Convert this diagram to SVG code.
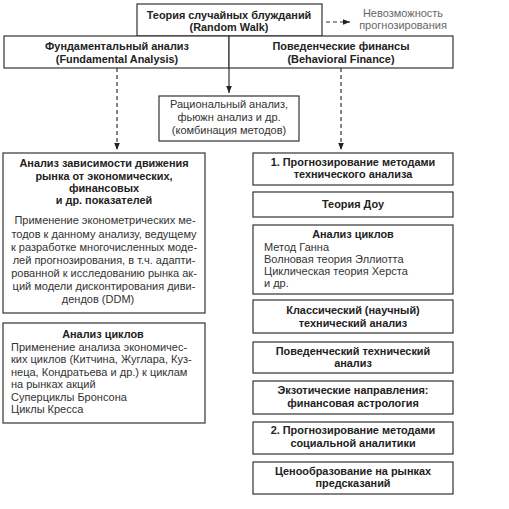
<svg xmlns="http://www.w3.org/2000/svg" width="509" height="509" viewBox="0 0 509 509">
<style>
.box{fill:#fff;stroke:#333;stroke-width:1.2}
.b{font-family:"Liberation Sans",Arial,sans-serif;font-weight:bold;font-size:10.9px;fill:#222;text-anchor:middle}
.n{font-family:"Liberation Sans",Arial,sans-serif;font-size:11px;fill:#333}
.c{text-anchor:middle}
.g{font-family:"Liberation Sans",Arial,sans-serif;font-size:11px;fill:#666;text-anchor:middle}
.ln{stroke:#333;stroke-width:1.2;fill:none}
.d{stroke-dasharray:4 3}
</style>
<defs>
<marker id="ah" viewBox="0 0 10 10" refX="10" refY="5" markerWidth="7" markerHeight="7" markerUnits="userSpaceOnUse" orient="auto">
<path d="M0,1 L10,5 L0,9 Z" fill="#222"/>
</marker>
</defs>
<rect width="509" height="509" fill="#fff"/>
<g id="connectors">
<line class="ln d" x1="326" y1="22" x2="350" y2="22" marker-end="url(#ah)"/>
<line class="ln d" x1="117" y1="68" x2="117" y2="150" marker-end="url(#ah)"/>
<line class="ln" x1="229" y1="68" x2="229" y2="93" marker-end="url(#ah)"/>
<line class="ln d" x1="341" y1="68" x2="341" y2="150" marker-end="url(#ah)"/>
</g>
<g id="random-walk">
<rect class="box" x="137" y="4" width="185" height="32"/>
<text class="b" x="229" y="19">Теория случайных блужданий</text>
<text class="b" x="229" y="31">(Random Walk)</text>
</g>
<g id="impossible">
<text class="g" x="403" y="17">Невозможность</text>
<text class="g" x="403" y="29">прогнозирования</text>
</g>
<g id="fundamental">
<rect class="box" x="4" y="36" width="225" height="32"/>
<text class="b" x="117" y="50">Фундаментальный анализ</text>
<text class="b" x="117" y="63">(Fundamental Analysis)</text>
</g>
<g id="behavioral">
<rect class="box" x="229" y="36" width="224" height="32"/>
<text class="b" x="341" y="50">Поведенческие финансы</text>
<text class="b" x="341" y="63">(Behavioral Finance)</text>
</g>
<g id="rational">
<rect class="box" x="159" y="96" width="140" height="45"/>
<text class="n c" x="229" y="108">Рациональный анализ,</text>
<text class="n c" x="229" y="121">фьюжн анализ и др.</text>
<text class="n c" x="229" y="134">(комбинация методов)</text>
</g>
<g id="dependency">
<rect class="box" x="3" y="153" width="202" height="160"/>
<text class="b" x="104" y="167">Анализ зависимости движения</text>
<text class="b" x="104" y="180">рынка от экономических,</text>
<text class="b" x="104" y="192">финансовых</text>
<text class="b" x="104" y="204">и др. показателей</text>
<text class="n c" x="105" y="224">Применение эконометрических ме-</text>
<text class="n c" x="104" y="238">тодов к данному анализу, ведущему</text>
<text class="n c" x="104" y="251">к разработке многочисленных моде-</text>
<text class="n c" x="104" y="264">лей прогнозирования, в т.ч. адапти-</text>
<text class="n c" x="104" y="277">рованной к исследованию рынка ак-</text>
<text class="n c" x="104" y="290">ций модели дисконтирования диви-</text>
<text class="n c" x="98" y="303">дендов (DDM)</text>
</g>
<g id="cycles-left">
<rect class="box" x="3" y="323" width="202" height="100"/>
<text class="b" x="103" y="338">Анализ циклов</text>
<text class="n" x="11" y="351">Применение анализа экономичес-</text>
<text class="n" x="11" y="363">ких циклов (Китчина, Жуглара, Куз-</text>
<text class="n" x="11" y="376">неца, Кондратьева и др.) к циклам</text>
<text class="n" x="11" y="388">на рынках акций</text>
<text class="n" x="11" y="401">Суперциклы Бронсона</text>
<text class="n" x="11" y="413">Циклы Кресса</text>
</g>
<g id="tech-forecast">
<rect class="box" x="253" y="153" width="200" height="32"/>
<text class="b" x="353" y="166">1. Прогнозирование методами</text>
<text class="b" x="353" y="178">технического анализа</text>
</g>
<g id="dow">
<rect class="box" x="253" y="192" width="200" height="25"/>
<text class="b" x="353" y="208">Теория Доу</text>
</g>
<g id="cycles-right">
<rect class="box" x="253" y="225" width="200" height="69"/>
<text class="b" x="353" y="238">Анализ циклов</text>
<text class="n" x="264" y="251">Метод Ганна</text>
<text class="n" x="264" y="263">Волновая теория Эллиотта</text>
<text class="n" x="264" y="275">Циклическая теория Херста</text>
<text class="n" x="264" y="287">и др.</text>
</g>
<g id="classic">
<rect class="box" x="253" y="300" width="200" height="33"/>
<text class="b" x="353" y="314">Классический (научный)</text>
<text class="b" x="353" y="327">технический анализ</text>
</g>
<g id="behavioral-tech">
<rect class="box" x="253" y="342" width="200" height="31"/>
<text class="b" x="353" y="355">Поведенческий технический</text>
<text class="b" x="353" y="367">анализ</text>
</g>
<g id="exotic">
<rect class="box" x="253" y="381" width="200" height="33"/>
<text class="b" x="353" y="394">Экзотические направления:</text>
<text class="b" x="353" y="407">финансовая астрология</text>
</g>
<g id="social">
<rect class="box" x="253" y="422" width="200" height="32"/>
<text class="b" x="353" y="434">2. Прогнозирование методами</text>
<text class="b" x="353" y="447">социальной аналитики</text>
</g>
<g id="prediction-markets">
<rect class="box" x="253" y="462" width="200" height="32"/>
<text class="b" x="353" y="475">Ценообразование на рынках</text>
<text class="b" x="353" y="487">предсказаний</text>
</g>
</svg>
